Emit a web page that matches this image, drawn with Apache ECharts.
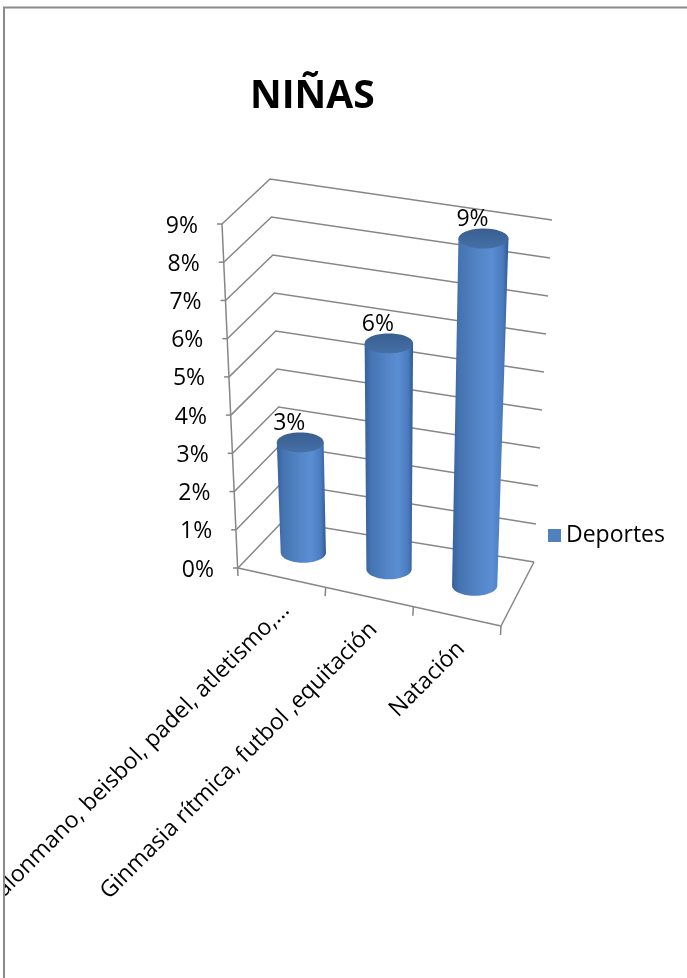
<!DOCTYPE html>
<html>
<head>
<meta charset="utf-8">
<script src="https://cdn.jsdelivr.net/npm/echarts@6/dist/echarts.min.js"></script>
<style>
html,body{margin:0;padding:0;background:#fff;}
#chart{width:687px;height:978px;}
</style>
</head>
<body>
<div id="chart"></div>
<script>
// ---- data ----
const titleText = 'NIÑAS';
const seriesName = 'Deportes';
const categories = ['Balonmano, beisbol, padel, atletismo,…', 'Ginmasia rítmica, futbol ,equitación', 'Natación'];
const values = [0.0286, 0.0571, 0.0857];
const tickValues = [0, 0.01, 0.02, 0.03, 0.04, 0.05, 0.06, 0.07, 0.08, 0.09];
const tickLabels = ['0%', '1%', '2%', '3%', '4%', '5%', '6%', '7%', '8%', '9%'];

// ---- layout / style ----
const FONT = 'Open Sans';
const FS = 23;
const GRID_C = '#868686';
const BOX = { // corners of the 3D plot box (front/back, left/right, bottom/top)
  FLB: [238, 568], FRB: [501, 626], BLB: [283, 521], BRB: [534, 562],
  FLT: [222, 224], FRT: [511, 230], BLT: [270, 179], BRT: [552, 220]
};
function lerp(a, b, s) { return [a[0] + (b[0] - a[0]) * s, a[1] + (b[1] - a[1]) * s]; }
function P(u, t, w) {
  const fb = lerp(BOX.FLB, BOX.FRB, u), ft = lerp(BOX.FLT, BOX.FRT, u);
  const bb = lerp(BOX.BLB, BOX.BRB, u), bt = lerp(BOX.BLT, BOX.BRT, u);
  return lerp(lerp(fb, ft, t), lerp(bb, bt, t), w);
}
function norm(params, api, xv, yv) {
  const cs = params.coordSys;
  const p = api.coord([xv, yv]);
  const p0 = api.coord([xv, 0]);
  return { u: (p[0] - cs.x) / cs.width, t: (p0[1] - p[1]) / cs.height };
}
function line(a, b, w) {
  return { type: 'line', shape: { x1: a[0], y1: a[1], x2: b[0], y2: b[1] }, style: { stroke: GRID_C, lineWidth: w || 1.5 } };
}

const chart = echarts.init(document.getElementById('chart'), null, { renderer: 'canvas' });

const option = {
  animation: false,
  backgroundColor: '#fff',
  title: {
    text: titleText, left: 245, top: 72,
    textStyle: { fontFamily: FONT, fontSize: 39, fontWeight: 'bold', color: '#000' }
  },
  legend: {
    data: [seriesName], left: 548, top: 524, padding: 0, itemWidth: 13, itemHeight: 13,
    icon: 'rect', selectedMode: false,
    textStyle: { fontFamily: FONT, fontSize: FS, color: '#000' }
  },
  grid: { left: 0, top: 0, width: 600, height: 900, show: false },
  xAxis: { type: 'category', data: categories, show: false },
  yAxis: { type: 'value', min: 0, max: 0.09, show: false },
  graphic: [
    { type: 'rect', z: 100, shape: { x: 0, y: 0, width: 3, height: 978 }, style: { fill: '#fff' } },
    { type: 'polyline', z: 101, shape: { points: [[4, 978], [4, 7.5], [687, 7.5]] }, style: { stroke: '#8a8a8a', lineWidth: 2, fill: null } }
  ],
  series: [
    { // walls, gridlines, value axis and floor
      type: 'custom', name: 'frame', z: 1, silent: true,
      data: tickValues.map(v => [0, v]),
      renderItem: function (params, api) {
        const n = norm(params, api, 0, api.value(1));
        const t = n.t;
        const a = P(0, t, 0), b = P(0, t, 1), c = P(1, t, 1);
        const ch = [
          { type: 'polyline', shape: { points: [a, b, c] }, style: { stroke: GRID_C, lineWidth: 1.5, fill: null } },
          line(a, [a[0] - 5, a[1]]),
          { type: 'text', x: a[0] - 24, y: a[1] + 2, style: { text: tickLabels[params.dataIndex], align: 'right', verticalAlign: 'middle', fontFamily: FONT, fontSize: FS, fill: '#000' } }
        ];
        if (params.dataIndex === 0) {
          const top = P(0, 1, 0);
          ch.push(line([a[0], a[1] + 8], top));
          ch.push(line(P(0, 0, 0), P(1, 0, 0)));
          ch.push(line(P(1, 0, 0), P(1, 0, 1)));
          const nc = categories.length;
          for (let k = 1; k <= nc; k++) {
            const q = P(k / nc, 0, 0);
            ch.push(line(q, [q[0] - 0.5, q[1] + 9]));
          }
        }
        return { type: 'group', children: ch };
      }
    },
    { // cylinders
      type: 'custom', name: seriesName, z: 2, silent: true,
      itemStyle: { color: '#4F81BD' },
      data: values.map((v, i) => [i, v]),
      renderItem: function (params, api) {
        const v = api.value(1);
        const n = norm(params, api, api.value(0), v);
        const u = n.u, t = n.t, r = 0.088, ry = 10, W = 0.5;
        const B = P(u, 0, W), T = P(u, t, W);
        const rxB = (P(u + r, 0, W)[0] - P(u - r, 0, W)[0]) / 2;
        const rxT = (P(u + r, t, W)[0] - P(u - r, t, W)[0]) / 2;
        const body = [[T[0] - rxT, T[1]], [B[0] - rxB, B[1]]];
        const N = 40;
        for (let k = 0; k <= N; k++) {
          const th = Math.PI - Math.PI * k / N;
          body.push([B[0] + rxB * Math.cos(th), B[1] + ry * Math.sin(th)]);
        }
        body.push([T[0] + rxT, T[1]]);
        const topE = [];
        for (let k = 0; k < 2 * N; k++) {
          const th = 2 * Math.PI * k / (2 * N);
          topE.push([T[0] + rxT * Math.cos(th), T[1] + ry * Math.sin(th)]);
        }
        return {
          type: 'group', children: [
            { type: 'polygon', shape: { points: body }, style: { fill: { type: 'linear', x: 0, y: 0, x2: 1, y2: 0, colorStops: [
              { offset: 0, color: '#35609C' }, { offset: 0.12, color: '#4573B1' }, { offset: 0.45, color: '#5284C6' },
              { offset: 0.7, color: '#5A8DD2' }, { offset: 0.9, color: '#4A7BBE' }, { offset: 1, color: '#2F5993' }] } } },
            { type: 'polygon', shape: { points: topE }, style: { fill: { type: 'linear', x: 0, y: 0, x2: 0, y2: 1, colorStops: [
              { offset: 0, color: '#3A5E8F' }, { offset: 1, color: '#4470A7' }] } } },
            { type: 'text', x: T[0] - 11, y: T[1] - 19, style: { text: Math.round(v * 100) + '%', align: 'center', verticalAlign: 'middle', fontFamily: FONT, fontSize: FS, fill: '#000' } }
          ]
        };
      }
    },
    { // category labels
      type: 'custom', name: 'catLabels', z: 3, silent: true,
      data: categories.map((c, i) => [i, 0]),
      renderItem: function (params, api) {
        const n = norm(params, api, api.value(0), 0);
        const q = P(n.u, 0, 0);
        return { type: 'text', x: q[0] + 4, y: q[1] + 29, rotation: Math.PI / 4,
          style: { text: categories[params.dataIndex], align: 'right', verticalAlign: 'middle', fontFamily: FONT, fontSize: FS, fill: '#000' } };
      }
    }
  ]
};
chart.setOption(option);
</script>
</body>
</html>
